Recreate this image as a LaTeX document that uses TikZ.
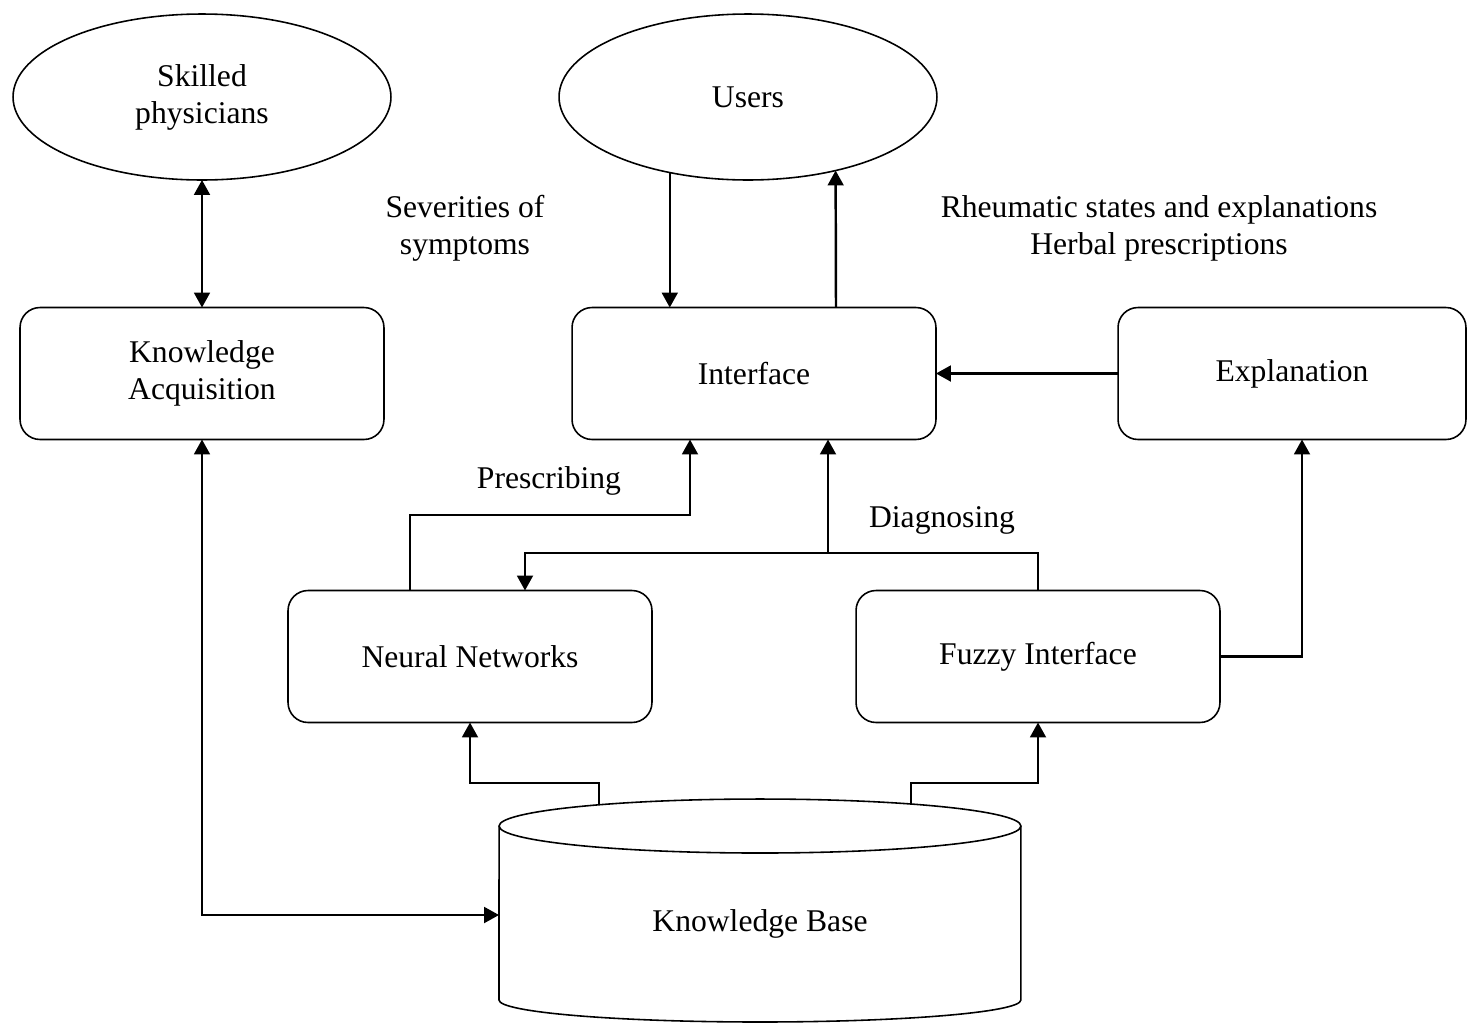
\documentclass[tikz,border=0pt]{standalone}
\usepackage{fontspec}
\setmainfont{Liberation Serif}
\usetikzlibrary{positioning,arrows.meta}
\usepgflibrary{shapes.geometric}
\tikzset{%
txt/.style={font=\fontsize{18}{21}\selectfont},
module/.style={draw,rectangle,rounded corners=0.4cm,line width=0.9pt,minimum width=7.28cm,minimum height=2.64cm,align=center,outer sep=0,txt},
actor/.style={draw,ellipse,line width=0.9pt,minimum width=7.56cm,minimum height=3.32cm,align=center,outer sep=0,txt},
flow/.style={line width=1.4pt,-{Triangle[length=8.5pt,width=9pt]}},
twoway/.style={line width=1.4pt,{Triangle[length=8.5pt,width=9pt]}-{Triangle[length=8.5pt,width=9pt]}},
caption/.style={align=center,inner sep=1pt,txt}
}

\begin{document}
\begin{tikzpicture}[x=0.02cm,y=-0.02cm]
  \useasboundingbox (0,0) rectangle (1468,1025);

  % outside actors
  \node[actor] (phys) at (202,97) {Skilled\\physicians};
  \node[actor] (users) at (748,97) {Users};

  % modules
  \node[module] (acq) at (202,373.5) {Knowledge\\Acquisition};
  \node[module] (iface) at (754,373.5) {Interface};
  \node[module,minimum width=6.96cm] (expl) at (1292,373.5) {Explanation};
  \node[module] (nn) at (470,656.5) {Neural Networks};
  \node[module] (fuzzy) at (1038,656.5) {Fuzzy Interface};

  % knowledge base drum
  \node[inner sep=0,outer sep=0,minimum width=10.44cm,minimum height=3.92cm,txt] (kb) at (760,924) {Knowledge Base};
  \draw[line width=0.9pt] (kb.north) ellipse [x radius=5.22cm,y radius=0.54cm];
  \draw[line width=0.9pt] (kb.north west) -- (499,1000)
    arc[start angle=180,end angle=360,x radius=5.22cm,y radius=0.44cm] -- (kb.north east);
  \coordinate (kbnn) at (599,805);
  \coordinate (kbfz) at (911,804);
  \coordinate (kbin) at (kb.west |- 0,915);

  % texts on the flows
  \node[caption] (sev) at (465,228) {Severities of\\symptoms};
  \node[caption] (res) at (1159,228) {Rheumatic states and explanations\\Herbal prescriptions};
  \node[caption] (pres) at (549,481) {Prescribing};
  \node[caption] (diag) at (942,520) {Diagnosing};

  % connectors
  \draw[twoway] (phys.south) -- (acq.north);
  \draw[flow] (users.224.6) -- (users.224.6 |- iface.north);
  \draw[flow] (iface.north -| 836,0) -- (users.320.1);
  \draw[flow] (expl.west) -- (iface.east);
  \draw[twoway] (acq.south) |- (kbin);
  \draw[flow] (nn.north -| 410,0) -- (410,515) -- (690,515) -- (iface.south -| 690,0);
  \coordinate (dg) at (828,553);
  \draw[flow] (fuzzy.north) -- (fuzzy.north |- dg) -- (525,553) -- (nn.north -| 525,0);
  \draw[flow] (dg) -- (iface.south -| dg);
  \draw[flow] (fuzzy.east) -| (expl.south -| 1302,0);
  \draw[flow] (kbnn) -- (kbnn |- 0,783) -| (nn.south);
  \draw[flow] (kbfz) -- (kbfz |- 0,783) -| (fuzzy.south);
\end{tikzpicture}
\end{document}
